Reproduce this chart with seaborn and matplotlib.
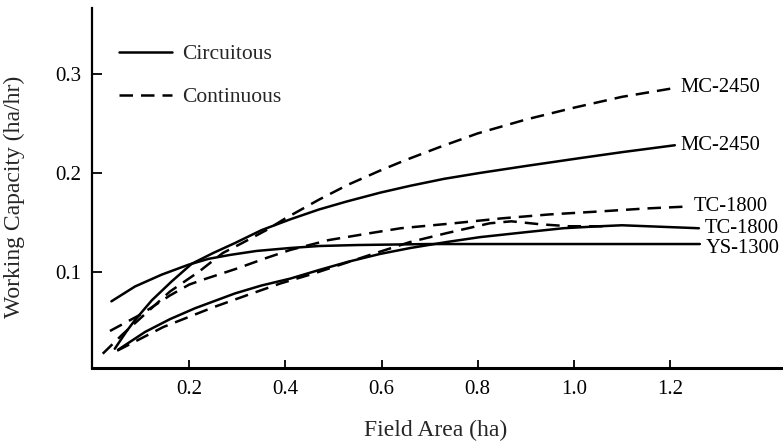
import matplotlib
matplotlib.use("Agg")
import matplotlib.pyplot as plt
from matplotlib.lines import Line2D
import seaborn as sns
import pandas as pd

# ---- data ----
machines = ["MC-2450", "MC-2450", "TC-1800", "TC-1800", "YS-1300", "YS-1300"]
patterns = ["Continuous", "Circuitous", "Continuous", "Circuitous", "Circuitous", "Continuous"]
end_labels = ["MC-2450", "MC-2450", "TC-1800", "TC-1800", "YS-1300", ""]

mc_cont_x = [0.02, 0.06, 0.11, 0.16, 0.22, 0.27, 0.31, 0.36, 0.40, 0.47, 0.53, 0.60, 0.65, 0.72, 0.80, 0.90, 1.00, 1.10, 1.21]
mc_cont_y = [0.017, 0.036, 0.058, 0.080, 0.100, 0.119, 0.129, 0.142, 0.154, 0.173, 0.188, 0.203, 0.213, 0.226, 0.240, 0.254, 0.266, 0.277, 0.286]

mc_circ_x = [0.045, 0.07, 0.087, 0.122, 0.163, 0.205, 0.25, 0.295, 0.35, 0.41, 0.47, 0.527, 0.597, 0.66, 0.73, 0.805, 0.90, 1.013, 1.10, 1.21]
mc_circ_y = [0.022, 0.040, 0.051, 0.071, 0.090, 0.108, 0.119, 0.129, 0.142, 0.153, 0.163, 0.171, 0.180, 0.187, 0.194, 0.200, 0.207, 0.215, 0.221, 0.228]

tc_cont_x = [0.035, 0.10, 0.16, 0.20, 0.229, 0.298, 0.361, 0.41, 0.49, 0.576, 0.64, 0.75, 0.85, 0.95, 1.054, 1.15, 1.238]
tc_cont_y = [0.040, 0.057, 0.076, 0.087, 0.092, 0.103, 0.114, 0.122, 0.132, 0.139, 0.144, 0.149, 0.154, 0.158, 0.161, 0.164, 0.166]

tc_circ_x = [0.052, 0.108, 0.16, 0.212, 0.295, 0.35, 0.41, 0.472, 0.53, 0.597, 0.66, 0.735, 0.805, 0.90, 0.978, 1.054, 1.10, 1.26]
tc_circ_y = [0.021, 0.039, 0.052, 0.063, 0.078, 0.086, 0.093, 0.102, 0.110, 0.118, 0.124, 0.130, 0.135, 0.140, 0.144, 0.146, 0.147, 0.144]

ys_circ_x = [0.038, 0.087, 0.1425, 0.198, 0.24, 0.285, 0.34, 0.41, 0.47, 0.55, 0.70, 0.90, 1.10, 1.262]
ys_circ_y = [0.070, 0.085, 0.097, 0.107, 0.113, 0.117, 0.121, 0.124, 0.126, 0.127, 0.128, 0.128, 0.128, 0.128]

ys_cont_x = [0.05, 0.146, 0.25, 0.319, 0.389, 0.458, 0.52, 0.576, 0.659, 0.735, 0.825, 0.87, 0.93, 0.99, 1.07]
ys_cont_y = [0.020, 0.044, 0.064, 0.076, 0.088, 0.098, 0.108, 0.117, 0.130, 0.139, 0.149, 0.151, 0.148, 0.146, 0.146]

xs = [mc_cont_x, mc_circ_x, tc_cont_x, tc_circ_x, ys_circ_x, ys_cont_x]
ys = [mc_cont_y, mc_circ_y, tc_cont_y, tc_circ_y, ys_circ_y, ys_cont_y]

x_ticks = [0.2, 0.4, 0.6, 0.8, 1.0, 1.2]
y_ticks = [0.1, 0.2, 0.3]

rows = []
for i, (m, p, xv, yv) in enumerate(zip(machines, patterns, xs, ys)):
    for a, b in zip(xv, yv):
        rows.append({"curve": i, "machine": m, "pattern": p, "area": a, "capacity": b})
df = pd.DataFrame(rows)

# ---- style ----
sns.set_style("white")
plt.rcParams["font.family"] = ["Liberation Serif", "DejaVu Serif"]

fig = plt.figure(figsize=(7.83, 4.43), dpi=100)
ax = fig.add_axes([0.1171, 0.1686, 0.8829, 0.8126])

LW = 1.8
DASH = (5.4, 3.2)
sns.lineplot(data=df, x="area", y="capacity", units="curve", style="pattern",
             estimator=None, color="black", linewidth=LW,
             dashes={"Circuitous": "", "Continuous": DASH},
             legend=False, ax=ax)

# end labels
for xv, yv, lab in zip(xs, ys, end_labels):
    if lab:
        dy = -3 if lab == "YS-1300" else 0
        ax.annotate(lab, (xv[-1], yv[-1]), xytext=(4, dy), textcoords="offset points",
                    ha="left", va="center", fontsize=14.8, color="black")

ax.set_xlim(-0.003, 1.435)
ax.set_ylim(0.0022, 0.3666)
ax.set_xticks(x_ticks)
ax.set_xticklabels([f"{t:.1f}" for t in x_ticks])
ax.set_yticks(y_ticks)
ax.set_yticklabels([f"{t:.1f}" for t in y_ticks])
ax.tick_params(axis="x", direction="in", length=6, width=1.3, pad=8.5, labelsize=15, colors="black")
ax.tick_params(axis="y", direction="in", length=7, width=1.3, pad=7.5, labelsize=15, colors="black")
ax.tick_params(bottom=True, left=True)

for s in ["top", "right"]:
    ax.spines[s].set_visible(False)
ax.spines["left"].set_linewidth(1.6)
ax.spines["bottom"].set_linewidth(2.2)
ax.spines["left"].set_color("black")
ax.spines["bottom"].set_color("black")

ax.set_xlabel("Field Area (ha)", fontsize=17)
ax.set_ylabel("Working Capacity (ha/hr)", fontsize=17)
ax.xaxis.set_label_coords(0.498, -0.143)
ax.yaxis.set_label_coords(-0.0965, 0.476)

handles = [Line2D([], [], color="black", lw=LW, linestyle="-"),
           Line2D([], [], color="black", lw=LW, dashes=DASH)]
ax.legend(handles, ["Circuitous", "Continuous"], loc="upper left",
          bbox_to_anchor=(0.0395, 0.90), frameon=False, fontsize=15.5,
          handlelength=2.45, handletextpad=0.5, labelspacing=1.05,
          borderpad=0, borderaxespad=0)

fig.savefig("out.png", dpi=100)
